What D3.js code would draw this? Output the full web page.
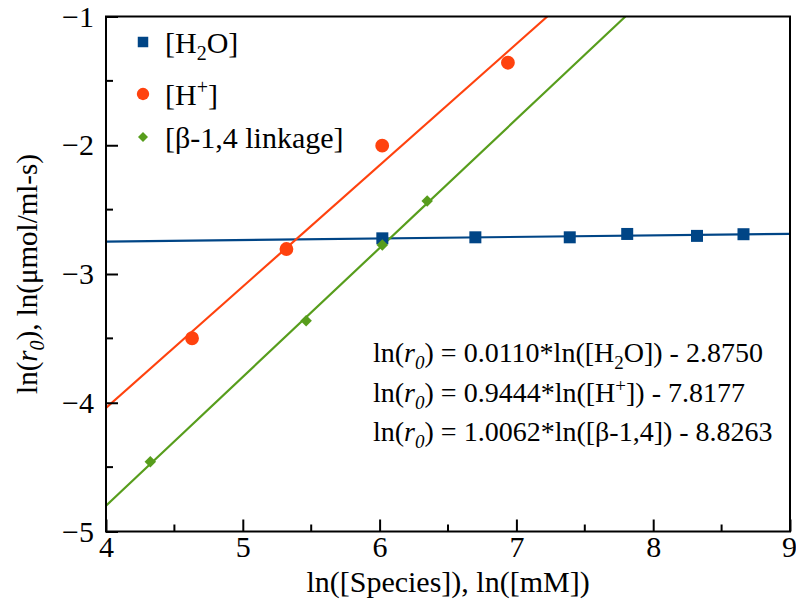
<!DOCTYPE html>
<html>
<head>
<meta charset="utf-8">
<script src="https://cdn.jsdelivr.net/npm/d3@7"></script>
<style>
  body { margin: 0; background: #fff; }
  svg, svg text { font-family: "Liberation Serif", "Times New Roman", Times, "DejaVu Serif", serif !important; }
</style>
</head>
<body>
<svg id="chart"></svg>
<script>
// data: ln([species]) vs ln(r0)
var h2oX = [6.02, 6.70, 7.39, 7.81, 8.32, 8.66];
var h2oY = [-2.723, -2.715, -2.715, -2.689, -2.704, -2.691];
var hX = [4.629, 5.319, 6.019, 6.938];
var hY = [-3.499, -2.806, -2.003, -1.359];
var bX = [4.324, 5.463, 6.02, 6.348];
var bY = [-4.458, -3.363, -2.775, -2.433];

// fitted lines, as drawn (endpoints in data units)
var h2oFit = [[4, -2.748], [9, -2.688]];
var hFit = [[4, -4.040], [7.226, -1.0]];
var bFit = [[4, -4.800], [7.797, -1.0]];

var xTicks = [4, 5, 6, 7, 8, 9];
var xMinor = [4.5, 5.5, 6.5, 7.5, 8.5];
var yTicks = [-5, -4, -3, -2, -1];
var yMinor = [-4.5, -3.5, -2.5, -1.5];

var BLUE = "#004586", RED = "#ff420e", GREEN = "#579d1c";
var FONT = "'Liberation Serif', 'Times New Roman', serif";

var width = 796, height = 609;
var margin = {left: 106, right: 6, top: 16.5, bottom: 77.5};

var svg = d3.select("#chart")
    .attr("width", width)
    .attr("height", height)
    .attr("font-family", FONT);

var x = d3.scaleLinear().domain([4, 9]).range([margin.left, width - margin.right]);
var y = d3.scaleLinear().domain([-5, -1]).range([height - margin.bottom, margin.top]);

var plot = svg.append("g");
plot.append("clipPath").attr("id", "clip")
  .append("rect")
    .attr("x", x(4)).attr("y", y(-1))
    .attr("width", x(9) - x(4)).attr("height", y(-5) - y(-1));

// axes: ticks inside, bottom and left only
var xAxis = d3.axisBottom(x).tickValues(xTicks).tickSize(-12).tickPadding(4).tickFormat(d3.format("d"));
var yAxis = d3.axisLeft(y).tickValues(yTicks).tickSize(-12).tickPadding(12).tickFormat(d3.format("d"));

var gx = svg.append("g").attr("transform", "translate(0," + y(-5) + ")").call(xAxis);
var gy = svg.append("g").attr("transform", "translate(" + x(4) + ",0)").call(yAxis);
gx.append("g").selectAll("line").data(xMinor).enter().append("line")
    .attr("x1", function(d){ return x(d); }).attr("x2", function(d){ return x(d); })
    .attr("y1", 0).attr("y2", -7);
gy.append("g").selectAll("line").data(yMinor).enter().append("line")
    .attr("y1", function(d){ return y(d); }).attr("y2", function(d){ return y(d); })
    .attr("x1", 0).attr("x2", 7);
[gx, gy].forEach(function(g){
  g.attr("font-family", FONT);
  g.select(".domain").remove();
  g.selectAll("line").attr("stroke", "#000").attr("stroke-width", 2);
  g.selectAll("text").attr("font-size", "30px").attr("fill", "#000")
    .style("font-family", FONT);
});
// last x label sits at the window edge, nudge it in a little
gx.selectAll(".tick text").filter(function(d){ return d === 9; }).attr("dx", -1);

// frame
svg.append("rect")
    .attr("x", x(4)).attr("y", y(-1))
    .attr("width", x(9) - x(4)).attr("height", y(-5) - y(-1))
    .attr("fill", "none").attr("stroke", "#000").attr("stroke-width", 2);

// fit lines
var line = d3.line().x(function(d){ return x(d[0]); }).y(function(d){ return y(d[1]); });
var fits = [[h2oFit, BLUE], [hFit, RED], [bFit, GREEN]];
fits.forEach(function(f){
  plot.append("path").attr("d", line(f[0]))
    .attr("clip-path", "url(#clip)")
    .attr("fill", "none").attr("stroke", f[1]).attr("stroke-width", 2.2);
});

// markers
var sq = d3.symbol().type(d3.symbolSquare).size(144);
var circ = d3.symbol().type(d3.symbolCircle).size(150);
var dia = d3.symbol().type(d3.symbolSquare).size(66);

plot.selectAll(".h2o").data(h2oX).enter().append("path")
    .attr("d", sq)
    .attr("transform", function(d, i){ return "translate(" + x(d) + "," + y(h2oY[i]) + ")"; })
    .attr("fill", BLUE);
plot.selectAll(".hp").data(hX).enter().append("path")
    .attr("d", circ)
    .attr("transform", function(d, i){ return "translate(" + x(d) + "," + y(hY[i]) + ")"; })
    .attr("fill", RED);
plot.selectAll(".b14").data(bX).enter().append("path")
    .attr("d", dia)
    .attr("transform", function(d, i){ return "translate(" + x(d) + "," + y(bY[i]) + ") rotate(45)"; })
    .attr("fill", GREEN);

// legend
var legend = svg.append("g").attr("transform", "translate(143,42)");
legend.append("path").attr("d", d3.symbol().type(d3.symbolSquare).size(110)).attr("fill", BLUE);
legend.append("path").attr("d", d3.symbol().type(d3.symbolCircle).size(120))
    .attr("transform", "translate(0,52)").attr("fill", RED);
legend.append("path").attr("d", d3.symbol().type(d3.symbolSquare).size(50))
    .attr("transform", "translate(0,95) rotate(45)").attr("fill", GREEN);

var t1 = legend.append("text").attr("x", 22).attr("y", 11).attr("font-size", "30px");
t1.append("tspan").text("[H");
t1.append("tspan").attr("dy", 7).attr("font-size", "20px").text("2");
t1.append("tspan").attr("dy", -7).text("O]");
var t2 = legend.append("text").attr("x", 22).attr("y", 63).attr("font-size", "30px");
t2.append("tspan").text("[H");
t2.append("tspan").attr("dy", -11).attr("font-size", "20px").text("+");
t2.append("tspan").attr("dy", 11).text("]");
legend.append("text").attr("x", 22).attr("y", 106).attr("font-size", "30px").text("[β-1,4 linkage]");

// equations
function lnr0(t) {
  t.append("tspan").text("ln(");
  t.append("tspan").attr("font-style", "italic").text("r");
  t.append("tspan").attr("font-style", "italic").attr("dy", 7).attr("font-size", "19px").text("0");
  t.append("tspan").attr("dy", -7).text(")");
}
var eq = svg.append("g").attr("font-size", "28px");
var e1 = eq.append("text").attr("x", 373).attr("y", 362);
lnr0(e1);
e1.append("tspan").text(" = 0.0110*ln([H");
e1.append("tspan").attr("dy", 7).attr("font-size", "19px").text("2");
e1.append("tspan").attr("dy", -7).text("O]) - 2.8750");
var e2 = eq.append("text").attr("x", 373).attr("y", 402);
lnr0(e2);
e2.append("tspan").text(" = 0.9444*ln([H");
e2.append("tspan").attr("dy", -10).attr("font-size", "19px").text("+");
e2.append("tspan").attr("dy", 10).text("]) - 7.8177");
var e3 = eq.append("text").attr("x", 373).attr("y", 441);
lnr0(e3);
e3.append("tspan").text(" = 1.0062*ln([β-1,4]) - 8.8263");

// axis titles
svg.append("text")
    .attr("x", (x(4) + x(9)) / 2).attr("y", 592)
    .attr("text-anchor", "middle").attr("font-size", "30px")
    .text("ln([Species]), ln([mM])");

var yt = svg.append("text")
    .attr("transform", "translate(37," + ((y(-1) + y(-5)) / 2) + ") rotate(-90)")
    .attr("text-anchor", "middle").attr("font-size", "29px");
yt.append("tspan").text("ln(");
yt.append("tspan").attr("font-style", "italic").text("r");
yt.append("tspan").attr("font-style", "italic").attr("dy", 7).attr("font-size", "20px").text("0");
yt.append("tspan").attr("dy", -7).text("), ln(μmol/ml-s)");
</script>
</body>
</html>
